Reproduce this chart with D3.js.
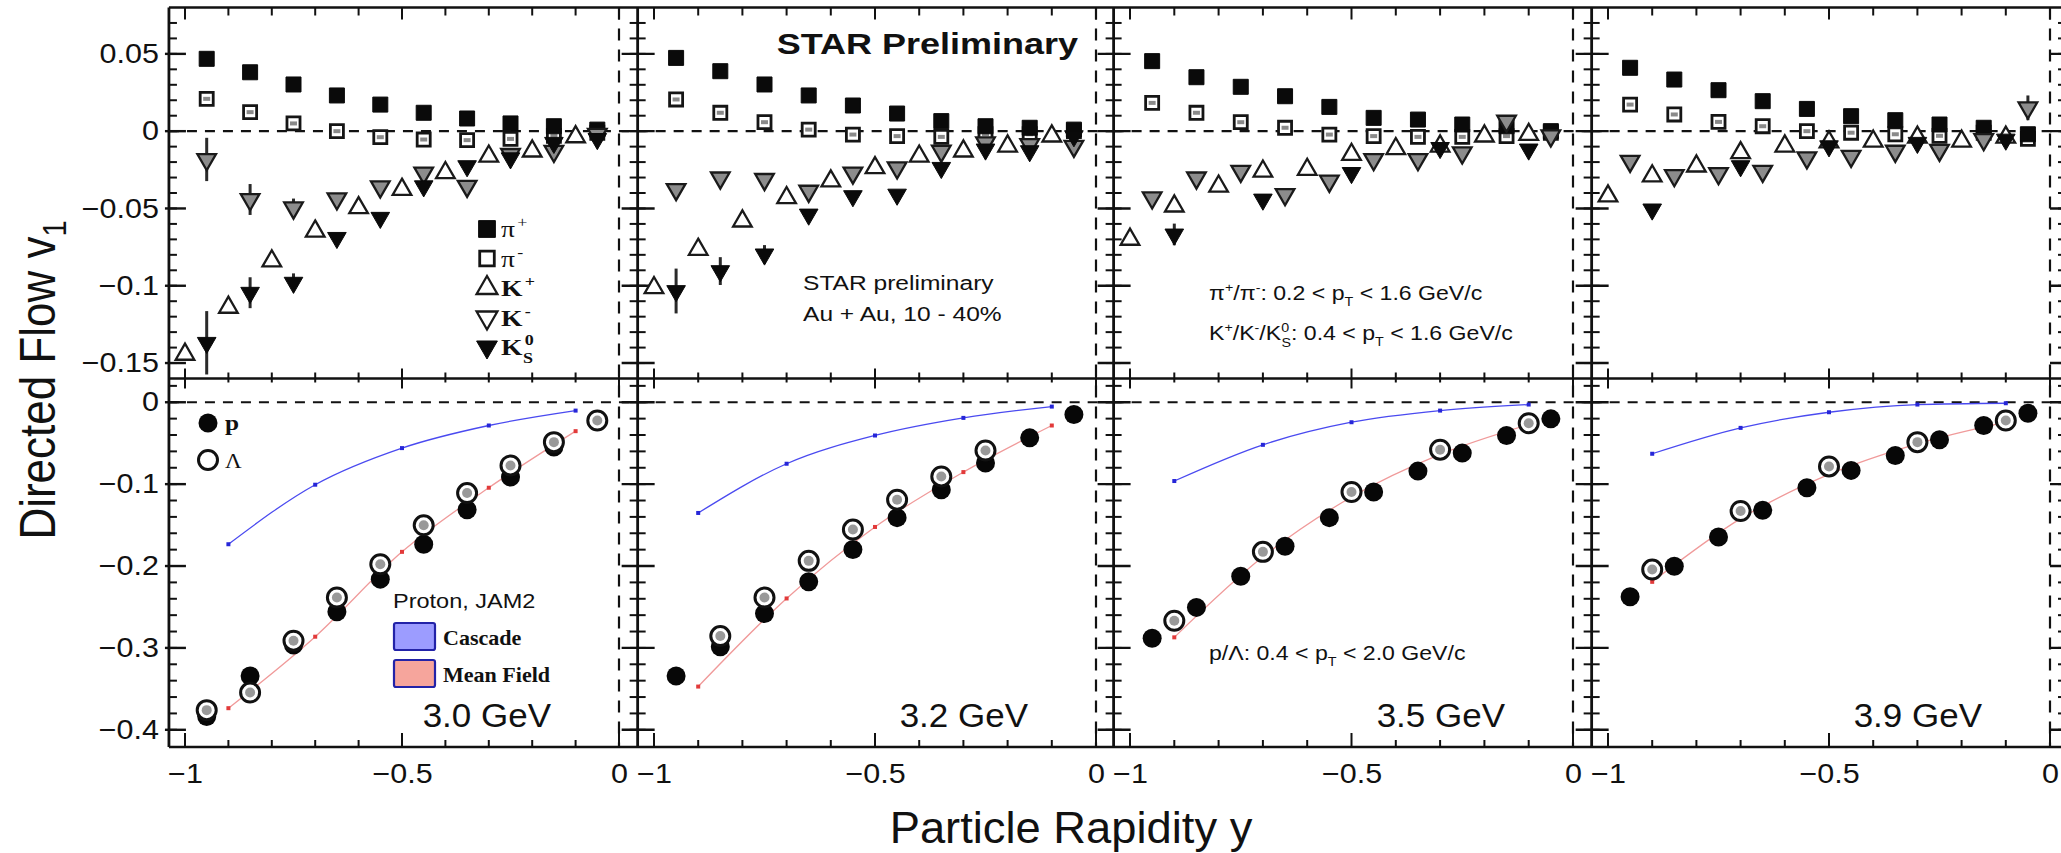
<!DOCTYPE html>
<html>
<head>
<meta charset="utf-8">
<script src="https://cdn.jsdelivr.net/npm/d3@7"></script>
<style>
  body { margin: 0; background: #fff; }
  svg { display: block; font-family: "Liberation Sans", Arial, Helvetica, sans-serif; }
</style>
</head>
<body>
<svg id="chart" width="2061" height="853"></svg>
<script>
// ---- data ----
const energies = ["3.0 GeV", "3.2 GeV", "3.5 GeV", "3.9 GeV"];
const rapHalf = [-0.95, -0.85, -0.75, -0.65, -0.55, -0.45, -0.35, -0.25, -0.15, -0.05];
const rapTenth = [-1.0, -0.9, -0.8, -0.7, -0.6, -0.5, -0.4, -0.3, -0.2, -0.1];
const rapOdd = [-0.9, -0.7, -0.5, -0.3, -0.1];

const piPlus = [
  [0.0468, 0.0381, 0.0302, 0.0231, 0.0172, 0.0119, 0.0082, 0.005, 0.0032, 0.001],
  [0.0474, 0.0388, 0.0302, 0.0231, 0.0166, 0.0114, 0.0065, 0.0032, 0.0022, 0.001],
  [0.0453, 0.0349, 0.0287, 0.0226, 0.0157, 0.0086, 0.0075, 0.0043, 0.0032, 0.0],
  [0.041, 0.0334, 0.0265, 0.0194, 0.0144, 0.0097, 0.0071, 0.0043, 0.0022, -0.002]
];
const piMinus = [
  [0.0209, 0.0123, 0.005, 0.0, -0.0039, -0.0054, -0.0058, -0.005, -0.003, -0.001],
  [0.0205, 0.0119, 0.0058, 0.001, -0.0022, -0.0032, -0.0037, -0.002, -0.002, 0.0],
  [0.0183, 0.0119, 0.0058, 0.0022, -0.0022, -0.0032, -0.0037, -0.0037, -0.0032, -0.001],
  [0.0172, 0.0108, 0.006, 0.0032, 0.0, -0.001, -0.002, -0.003, -0.001, -0.005]
];
const kPlus = [
  [-0.1444, -0.114, -0.084, -0.0647, -0.0496, -0.0377, -0.0269, -0.0162, -0.0129, -0.0037],
  [-0.1013, -0.0765, -0.0582, -0.0431, -0.0323, -0.0237, -0.0162, -0.0129, -0.0097, -0.0032],
  [-0.070, -0.0485, -0.0356, -0.0259, -0.0248, -0.0151, -0.0114, -0.0097, -0.0032, -0.0022],
  [-0.042, -0.029, -0.0226, -0.014, -0.0097, -0.007, -0.0065, -0.004, -0.0065, -0.004]
];
const kMinus = [
  [-0.0183, -0.0442, -0.0496, -0.0437, -0.036, -0.027, -0.0356, -0.015, -0.013, -0.002],
  [-0.0377, -0.0302, -0.0312, -0.0388, -0.027, -0.0237, -0.0129, -0.0075, -0.0086, -0.0097],
  [-0.0431, -0.0302, -0.0259, -0.041, -0.0323, -0.0183, -0.0183, -0.014, 0.0065, -0.003],
  [-0.0194, -0.0287, -0.0274, -0.0259, -0.0172, -0.0162, -0.0129, -0.0123, -0.0054, 0.0151]
];
const kMinusErr = [
  [0.014, 0.01, 0.006, 0.003, 0.002, 0.002, 0.002, 0.002, 0.002, 0.002],
  [0.003, 0.002, 0.002, 0.002, 0.002, 0.002, 0.002, 0.002, 0.002, 0.002],
  [0.003, 0.002, 0.002, 0.002, 0.002, 0.002, 0.002, 0.002, 0.002, 0.002],
  [0.002, 0.002, 0.002, 0.002, 0.002, 0.002, 0.002, 0.002, 0.002, 0.008]
];
const k0sRap = [rapHalf, rapHalf, rapOdd, rapOdd];
const k0s = [
  [-0.1369, -0.1045, -0.098, -0.069, -0.056, -0.0356, -0.0226, -0.0175, -0.0075, -0.005],
  [-0.1034, -0.0905, -0.0797, -0.0539, -0.042, -0.041, -0.0237, -0.0118, -0.0129, -0.0032],
  [-0.0668, -0.0442, -0.027, -0.0108, -0.0118],
  [-0.0506, -0.0226, -0.0097, -0.0075, -0.0054]
];
const k0sErr = [
  [0.0205, 0.01, 0.006, 0.003, 0.003, 0.002, 0.002, 0.002, 0.002, 0.002],
  [0.0145, 0.009, 0.006, 0.003, 0.002, 0.002, 0.002, 0.002, 0.002, 0.002],
  [0.007, 0.003, 0.002, 0.002, 0.002],
  [0.003, 0.002, 0.002, 0.002, 0.002]
];

const proton = [
  [-0.3838, -0.3342, -0.2964, -0.2558, -0.216, -0.1734, -0.1312, -0.0914, -0.0548, -0.0223],
  [-0.3342, -0.2985, -0.2579, -0.2193, -0.1799, -0.1409, -0.1068, -0.0743, -0.0435, -0.015],
  [-0.2883, -0.2505, -0.2124, -0.1758, -0.1409, -0.1096, -0.0841, -0.0621, -0.0406, -0.0203],
  [-0.2376, -0.2002, -0.1645, -0.132, -0.1044, -0.0832, -0.065, -0.0459, -0.0284, -0.0134]
];
const lambdaRap = [rapHalf, rapHalf, rapOdd, rapOdd];
const lambda = [
  [-0.376, -0.3545, -0.2912, -0.2384, -0.1978, -0.1503, -0.1109, -0.0772, -0.0487, -0.0223],
  [null, -0.2855, -0.2384, -0.1937, -0.1555, -0.119, -0.0906, -0.0589, null, null],
  [-0.2668, -0.1827, -0.1096, -0.0579, -0.0256],
  [-0.2043, -0.1328, -0.0784, -0.0487, -0.0223]
];
const jamCascade = [
  [-0.1734, -0.1007, -0.056, -0.0284, -0.0102],
  [-0.1352, -0.0751, -0.0406, -0.0191, -0.0053],
  [-0.0962, -0.052, -0.0244, -0.0102, -0.0028],
  [-0.0629, -0.0313, -0.0122, -0.0028, -0.0012]
];
const jamMeanField = [
  [-0.3736, -0.2863, -0.1827, -0.1044, -0.0353],
  [-0.3472, -0.2396, -0.1523, -0.0853, -0.0284],
  [-0.2871, -0.1888, -0.1157, -0.0637, -0.0272],
  [-0.2193, -0.1421, -0.0881, -0.0508, -0.0244]
];

const topTicks = [0.05, 0, -0.05, -0.1, -0.15];
const botTicks = [0, -0.1, -0.2, -0.3, -0.4];
const xTicks = [-1, -0.5, 0];

// ---- layout ----
const svg = d3.select('#chart');
const xMinusOne = [185, 654, 1130, 1608];
const xZero = [619, 1096, 1573, 2050];
const yTopPx = 7.5, yMidPx = 378.5, yBotPx = 747;
const ink = '#111';
const serif = '"Liberation Serif", "Times New Roman", serif';

const xs = xMinusOne.map((a, i) => d3.scaleLinear().domain([-1, 0]).range([a, xZero[i]]));
const yTop = d3.scaleLinear().domain([-0.16, 0.08]).range([yMidPx, yTopPx]);
const yBot = d3.scaleLinear().domain([-0.421, 0.029]).range([yBotPx, yMidPx]);

const axisX = xs.map(s => s(-1.037));
axisX.push(xZero[3] + 16);

svg.append('rect').attr('width', 2061).attr('height', 853).attr('fill', '#fff');

// the figure's lettering is a bit wider than a plain font, so labels get a horizontal stretch
function label(parent, x, y, size, str, opt = {}) {
  const t = parent.append('text')
    .attr('transform', `translate(${x},${y}) scale(${opt.sx || 1.15},1)`)
    .attr('text-anchor', opt.anchor || 'start')
    .attr('font-size', size).attr('fill', ink);
  if (opt.family) t.attr('font-family', opt.family);
  if (opt.bold) t.attr('font-weight', 'bold');
  if (str != null) t.text(str);
  return t;
}

const frame = svg.append('g').attr('stroke', '#111').attr('fill', 'none');

// dashed zero lines
xs.forEach((s, i) => {
  [yTop(0), yBot(0)].forEach(y => {
    frame.append('line')
      .attr('x1', axisX[i]).attr('x2', axisX[i + 1])
      .attr('y1', y).attr('y2', y)
      .attr('stroke-width', 2.2).attr('stroke-dasharray', '10,8');
  });
  frame.append('line')
    .attr('x1', s(0)).attr('x2', s(0))
    .attr('y1', yTopPx).attr('y2', yBotPx)
    .attr('stroke-width', 2.2).attr('stroke-dasharray', '12,9');
});

// horizontal frame lines
[yTopPx, yMidPx, yBotPx].forEach(y => {
  frame.append('line').attr('x1', axisX[0]).attr('x2', 2061)
    .attr('y1', y).attr('y2', y).attr('stroke-width', 2.6);
});

// vertical axes + y ticks
const topMinor = d3.range(-16, 9).map(v => v / 100);
const botMinor = d3.range(-21, 2).map(v => v / 50);
axisX.forEach((ax, i) => {
  frame.append('line').attr('x1', ax).attr('x2', ax)
    .attr('y1', yTopPx).attr('y2', yBotPx).attr('stroke-width', 2.8);
  const left = i === 0 ? 0 : 8, leftMaj = i === 0 ? 4 : 16;
  const tickSet = (vals, y, a, b, w) => vals.forEach(v => {
    frame.append('line').attr('x1', ax - a).attr('x2', ax + b)
      .attr('y1', y(v)).attr('y2', y(v)).attr('stroke-width', w);
  });
  tickSet(topMinor.filter(v => v > -0.159 && v < 0.079), yTop, left, 8, 2);
  tickSet(botMinor.filter(v => v > -0.42 && v < 0.028), yBot, left, 8, 2);
  tickSet(topTicks, yTop, leftMaj, 17, 2.4);
  tickSet(botTicks, yBot, leftMaj, 17, 2.4);
});

// x ticks on top, middle and bottom lines
const xMinor = d3.range(-10, 1).map(v => v / 10);
xs.forEach(s => {
  xMinor.forEach(v => {
    const major = xTicks.includes(v);
    const px = s(v);
    frame.append('line').attr('x1', px).attr('x2', px)
      .attr('y1', yTopPx).attr('y2', yTopPx + (major ? 12 : 8)).attr('stroke-width', 2);
    frame.append('line').attr('x1', px).attr('x2', px)
      .attr('y1', yMidPx - (major ? 10 : 6)).attr('y2', yMidPx + (major ? 10 : 4)).attr('stroke-width', 2);
    frame.append('line').attr('x1', px).attr('x2', px)
      .attr('y1', yBotPx - (major ? 14 : 7)).attr('y2', yBotPx).attr('stroke-width', 2);
  });
});

// tick labels through d3 axes, then stretched like the original lettering
const fmt = v => v === 0 ? '0' : d3.format('')(v);
function styleTicks(g, anchorShift) {
  g.select('.domain').remove();
  g.selectAll('.tick text')
    .attr('font-size', 27).attr('fill', ink)
    .attr('font-family', '"Liberation Sans", Arial, sans-serif')
    .attr('transform', 'scale(1.13,1)')
    .attr('x', function () { return +d3.select(this).attr('x') / 1.13 || 0; });
}
[yTop, yBot].forEach(y => {
  svg.append('g').attr('transform', `translate(${axisX[0] - 10},0)`)
    .call(d3.axisLeft(y).tickValues(y === yTop ? topTicks : botTicks).tickSize(0).tickPadding(0).tickFormat(fmt))
    .call(styleTicks);
});
xs.forEach(s => {
  svg.append('g').attr('transform', `translate(0,${yBotPx + 17})`)
    .call(d3.axisBottom(s).tickValues(xTicks).tickSize(0).tickPadding(0).tickFormat(fmt))
    .call(styleTicks);
});

// axis titles
const yTitle = svg.append('text')
  .attr('transform', 'translate(55,380) scale(1.12,1) rotate(-90)')
  .attr('text-anchor', 'middle').attr('font-size', 44).attr('fill', ink);
yTitle.append('tspan').text('Directed Flow v');
yTitle.append('tspan').attr('font-size', 29).attr('dy', 10).text('1');
label(svg, 1071, 843, 44, 'Particle Rapidity y', { anchor: 'middle', sx: 1.03 });

// ---- marks ----
const styles = {
  piPlus: { type: d3.symbolSquare, size: 225, fill: '#0a0a0a', stroke: '#0a0a0a', sw: 1 },
  piMinus: { type: d3.symbolSquare, size: 170, fill: '#fff', stroke: '#151515', sw: 2.8, mark: true },
  kPlus: { type: d3.symbolTriangle, size: 150, fill: '#fff', stroke: '#1a1a1a', sw: 2.3 },
  kMinus: { type: d3.symbolTriangle, size: 150, fill: '#8c8c8c', stroke: '#1a1a1a', sw: 2.3, flip: true },
  k0s: { type: d3.symbolTriangle, size: 150, fill: '#0a0a0a', stroke: '#0a0a0a', sw: 1, flip: true }
};

function drawSymbol(g, x, y, st, sizeScale = 1) {
  g.append('path')
    .attr('transform', `translate(${x},${y})` + (st.flip ? ' rotate(180)' : ''))
    .attr('d', d3.symbol(st.type, st.size * sizeScale)())
    .attr('fill', st.fill).attr('stroke', st.stroke).attr('stroke-width', st.sw);
  if (st.mark) {
    g.append('rect').attr('x', x - 3.5).attr('y', y - 2).attr('width', 7).attr('height', 4).attr('fill', '#8a8a8a');
  }
}

function drawSeries(g, s, y, rap, vals, st, errs) {
  rap.forEach((r, j) => {
    const v = vals[j];
    if (v == null) return;
    if (errs && errs[j] > 0.004) {
      g.append('line').attr('x1', s(r)).attr('x2', s(r))
        .attr('y1', y(v - errs[j])).attr('y2', y(v + errs[j]))
        .attr('stroke', '#2a2a2a').attr('stroke-width', 3);
    }
    drawSymbol(g, s(r), y(v), st);
  });
}

function drawProton(g, x, y) {
  g.append('circle').attr('cx', x).attr('cy', y).attr('r', 9.5).attr('fill', '#070707');
}
function drawLambda(g, x, y, plain) {
  g.append('circle').attr('cx', x).attr('cy', y).attr('r', 9.5)
    .attr('fill', '#fff').attr('stroke', '#111').attr('stroke-width', 3);
  if (!plain) g.append('circle').attr('cx', x).attr('cy', y).attr('r', 5).attr('fill', '#999');
}

const cascadeColor = '#4a4af0', meanColor = '#f09a9a';

xs.forEach((s, i) => {
  const g = svg.append('g');
  // top panel
  drawSeries(g, s, yTop, rapHalf, piMinus[i], styles.piMinus);
  drawSeries(g, s, yTop, rapHalf, piPlus[i], styles.piPlus);
  drawSeries(g, s, yTop, rapTenth, kPlus[i], styles.kPlus);
  drawSeries(g, s, yTop, rapHalf, kMinus[i], styles.kMinus, kMinusErr[i]);
  drawSeries(g, s, yTop, k0sRap[i], k0s[i], styles.k0s, k0sErr[i]);

  // bottom panel: JAM2 model curves
  const line = d3.line().x(d => s(d[0])).y(d => yBot(d[1])).curve(d3.curveMonotoneX);
  const casc = rapOdd.map((r, j) => [r, jamCascade[i][j]]);
  const mean = rapOdd.map((r, j) => [r, jamMeanField[i][j]]);
  g.append('path').attr('d', line(casc)).attr('fill', 'none').attr('stroke', cascadeColor).attr('stroke-width', 1.3);
  g.append('path').attr('d', line(mean)).attr('fill', 'none').attr('stroke', meanColor).attr('stroke-width', 1.3);
  casc.forEach(d => g.append('rect').attr('x', s(d[0]) - 2).attr('y', yBot(d[1]) - 2).attr('width', 4).attr('height', 4).attr('fill', '#2626d8'));
  mean.forEach(d => g.append('rect').attr('x', s(d[0]) - 2).attr('y', yBot(d[1]) - 2).attr('width', 4).attr('height', 4).attr('fill', '#e23a3a'));

  rapHalf.forEach((r, j) => drawProton(g, s(r), yBot(proton[i][j])));
  lambdaRap[i].forEach((r, j) => {
    if (lambda[i][j] != null) drawLambda(g, s(r), yBot(lambda[i][j]));
  });

  label(svg, s(0) - 68, 727, 33, energies[i], { anchor: 'end', sx: 1.06 });
});

// ---- legends and annotations ----
const leg = svg.append('g');
const legItems = [
  { st: styles.piPlus, base: 'π', sup: '+', bold: false },
  { st: Object.assign({}, styles.piMinus, { mark: false }), base: 'π', sup: '-', bold: false },
  { st: styles.kPlus, base: 'K', sup: '+', bold: true },
  { st: Object.assign({}, styles.kMinus, { fill: '#fff' }), base: 'K', sup: '-', bold: true },
  { st: styles.k0s, base: 'K', sup: '0', sub: 'S', bold: true }
];
legItems.forEach((d, j) => {
  const y = 229 + j * 29.5;
  drawSymbol(leg, 487, y, d.st, 1.25);
  const t = label(leg, 501, y + 8, 23, null, { family: serif, bold: d.bold, sx: 1.2 });
  t.append('tspan').text(d.base);
  t.append('tspan').attr('font-size', 15).attr('dx', 2).attr('dy', -10).text(d.sup);
  if (d.sub) t.append('tspan').attr('font-size', 15).attr('dx', -9).attr('dy', 18).text(d.sub);
});

drawProton(leg, 208, 423);
drawLambda(leg, 208, 460, true);
label(leg, 225, 430, 22, 'p', { family: serif, bold: true });
label(leg, 225, 468, 20, 'Λ', { family: serif });

label(leg, 393, 608, 21, 'Proton, JAM2', { sx: 1.12 });
leg.append('rect').attr('x', 394).attr('y', 623).attr('width', 41).attr('height', 27).attr('rx', 2)
  .attr('fill', '#9c9cff').attr('stroke', '#2323a8').attr('stroke-width', 2.2);
leg.append('rect').attr('x', 394).attr('y', 660).attr('width', 41).attr('height', 27).attr('rx', 2)
  .attr('fill', '#f6a59c').attr('stroke', '#2323a8').attr('stroke-width', 2.2);
label(leg, 443, 645, 21, 'Cascade', { family: serif, bold: true, sx: 1.05 });
label(leg, 443, 682, 21, 'Mean Field', { family: serif, bold: true, sx: 1.05 });

label(svg, 1078, 54, 30, 'STAR Preliminary', { anchor: 'end', bold: true, sx: 1.2 });

label(svg, 803, 290, 21, 'STAR preliminary', { sx: 1.17 });
label(svg, 803, 321, 21, 'Au + Au, 10 - 40%', { sx: 1.17 });

const sup = (t, s) => t.append('tspan').attr('font-size', 13).attr('dy', -8).text(s);
const down = (t, s, dy) => t.append('tspan').attr('font-size', 21).attr('dy', dy).text(s);
const subT = t => t.append('tspan').attr('font-size', 13).attr('dy', 6).text('T');

let t = label(svg, 1209, 300, 21, null, { sx: 1.1 });
t.append('tspan').text('π');
sup(t, '+'); down(t, '/π', 8); sup(t, '-'); down(t, ': 0.2 < p', 8);
subT(t); down(t, ' < 1.6 GeV/c', -6);

t = label(svg, 1209, 340, 21, null, { sx: 1.1 });
t.append('tspan').text('K');
sup(t, '+'); down(t, '/K', 8); sup(t, '-'); down(t, '/K', 8); sup(t, '0');
t.append('tspan').attr('font-size', 13).attr('dx', -7).attr('dy', 15).text('S');
down(t, ': 0.4 < p', -7); subT(t); down(t, ' < 1.6 GeV/c', -6);

t = label(svg, 1209, 660, 21, null, { sx: 1.1 });
t.append('tspan').text('p/Λ: 0.4 < p');
subT(t); down(t, ' < 2.0 GeV/c', -6);
</script>
</body>
</html>
